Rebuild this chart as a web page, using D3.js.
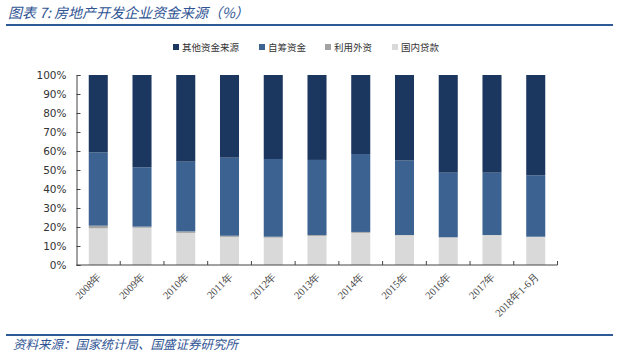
<!DOCTYPE html>
<html><head><meta charset="utf-8">
<script src="https://cdn.jsdelivr.net/npm/d3@7"></script>
<style>body{margin:0;background:#fff}</style>
</head><body>
<svg id="c" width="630" height="361"></svg>
<script>
const categories = ["2008年","2009年","2010年","2011年","2012年","2013年","2014年","2015年","2016年","2017年","2018年1-6月"];
const domesticLoans = [19.3,19.6,16.9,14.8,14.4,15.3,16.9,15.6,14.5,15.7,14.8];
const foreignCapital = [1.4,0.6,0.8,0.6,0.5,0.5,0.5,0.2,0.1,0.1,0.1];
const selfRaised = [38.6,31.2,36.7,41.1,40.9,39.5,41.0,39.2,34.0,32.8,32.3];
const otherSources = categories.map((c,i)=>+(100-domesticLoans[i]-foreignCapital[i]-selfRaised[i]).toFixed(1));
const yTicks = [0,10,20,30,40,50,60,70,80,90,100];
const seriesNames = ["其他资金来源","自筹资金","利用外资","国内贷款"];
const colors = {"其他资金来源":"#1b365f","自筹资金":"#3b6291","利用外资":"#a3a3a3","国内贷款":"#d9d9d9"};

(function(){
const rows = categories.map((c,i)=>({cat:c,"国内贷款":domesticLoans[i],"利用外资":foreignCapital[i],"自筹资金":selfRaised[i],"其他资金来源":otherSources[i]}));
const stackKeys = ["国内贷款","利用外资","自筹资金","其他资金来源"];
const stacked = d3.stack().keys(stackKeys)(rows);

const svg = d3.select("#c");
const font = "'Noto Sans CJK SC', 'Liberation Sans', sans-serif";
const pLeft=76.5, pRight=557.5, pTop=75, pBottom=265;
const x = d3.scaleBand().domain(categories).range([pLeft,pRight]).paddingInner(0.565).paddingOuter(0.28);
const y = d3.scaleLinear().domain([0,100]).range([pBottom,pTop]);

// title
svg.append("text").attr("x",8).attr("y",18).attr("font-family",font).attr("font-size",14)
  .attr("font-style","italic").attr("fill","#2f5494").text("图表 7:  房地产开发企业资金来源（%）");
svg.append("line").attr("x1",6).attr("x2",613).attr("y1",25).attr("y2",25).attr("stroke","#2d5a96").attr("stroke-width",2);
svg.append("line").attr("x1",6).attr("x2",613).attr("y1",335).attr("y2",335).attr("stroke","#2d5a96").attr("stroke-width",2);
svg.append("text").attr("x",13).attr("y",349).attr("font-family",font).attr("font-size",12.5)
  .attr("font-style","italic").attr("fill","#2f5494").text("资料来源：国家统计局、国盛证券研究所");

// legend
const legX=[173,259,325,392];
seriesNames.forEach((n,i)=>{
  const g=svg.append("g").attr("transform",`translate(${legX[i]},45)`);
  g.append("rect").attr("width",6).attr("height",6).attr("y",-1).attr("fill",colors[n]);
  g.append("text").attr("x",9).attr("y",5.5).attr("font-family",font).attr("font-size",9.5).attr("fill","#333").text(n);
});

// bars
svg.append("g").selectAll("g").data(stacked).join("g").attr("fill",d=>colors[d.key])
  .selectAll("rect").data(d=>d).join("rect")
  .attr("x",d=>x(d.data.cat)).attr("width",x.bandwidth())
  .attr("y",d=>y(d[1])).attr("height",d=>y(d[0])-y(d[1]));

// y axis
const ya = svg.append("g").attr("transform",`translate(${pLeft},0)`)
  .call(d3.axisLeft(y).tickValues(yTicks).tickFormat(d=>d+"%").tickSizeInner(-4).tickSizeOuter(-4).tickPadding(10));
ya.selectAll("path,line").attr("stroke","#444");
ya.selectAll("text").attr("font-family","'DejaVu Sans', sans-serif").attr("font-size",10.5).attr("fill","#333");

// x axis
const tickPos = d3.range(categories.length+1).map(i=>pLeft+i*(pRight-pLeft)/categories.length);
svg.append("line").attr("x1",pLeft).attr("x2",pRight).attr("y1",pBottom).attr("y2",pBottom).attr("stroke","#444");
svg.append("g").selectAll("line").data(tickPos.slice(1)).join("line")
  .attr("x1",d=>d).attr("x2",d=>d).attr("y1",pBottom).attr("y2",pBottom-4).attr("stroke","#444");
svg.append("g").selectAll("text").data(categories).join("text")
  .attr("transform",d=>`translate(${x(d)+x.bandwidth()/2+4},${pBottom+12}) rotate(-45)`)
  .attr("text-anchor","end").attr("font-family","'Liberation Serif', serif").attr("font-size",10.5)
  .attr("fill","#444").text(d=>d);
})();
</script>
</body></html>
